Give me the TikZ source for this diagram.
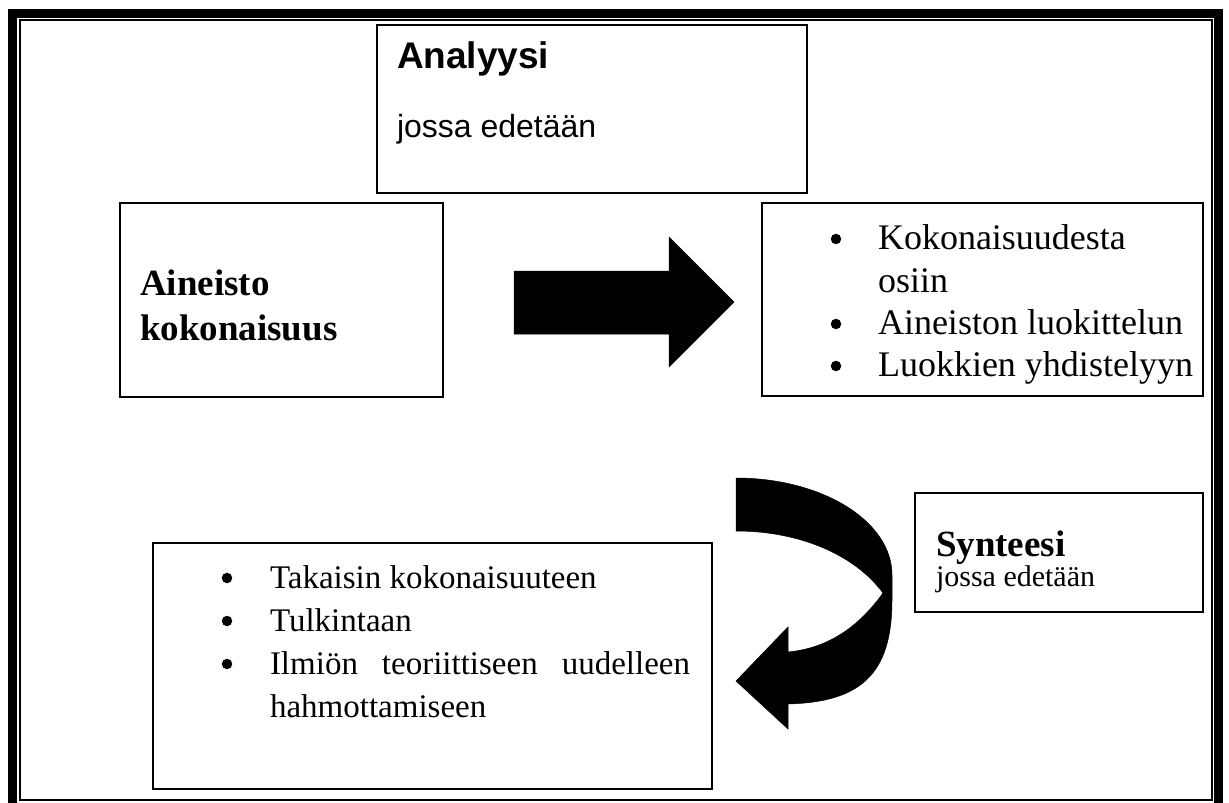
\documentclass[tikz,border=0pt]{standalone}
\usepackage{fontspec}
\setmainfont{Liberation Serif}
\newfontfamily\arialfont{Liberation Sans}
\begin{document}
\begin{tikzpicture}[x=1pt,y=-1pt,
  box/.style={draw=black, line width=1.8pt, rectangle, inner sep=0pt, outer sep=0pt},
  txt/.style={anchor=base west, inner sep=0pt, outer sep=0pt},
  bul/.style={circle, fill=black, inner sep=0pt, minimum size=10.5pt},
  blockarrow/.style={fill=black, draw=black, line width=0.5pt, line join=miter},
  sansbig/.style={font={\arialfont\bfseries\fontsize{37}{40}\selectfont}},
  sanstext/.style={font={\arialfont\fontsize{32}{36}\selectfont}},
  serifbold/.style={font={\bfseries\fontsize{37}{43}\selectfont}},
  seriftext/.style={font={\fontsize{36}{43}\selectfont}},
  seriflow/.style={font={\fontsize{33}{43}\selectfont}},
  serifsmall/.style={font={\fontsize{30}{34}\selectfont}}]
\useasboundingbox (0,0) rectangle (1229,803);
% page border
\begin{scope}
\clip (0,0) rectangle (1229,803);
\draw[line width=9pt] (12.5,13.5) rectangle (1218.5,812);
\draw[line width=1.8pt] (20,20) rectangle (1212,800);
\end{scope}
% boxes
\node[box, minimum width=430pt, minimum height=168pt] (ana) at (592,109) {};
\node[box, minimum width=323pt, minimum height=194pt] (ain) at (281.5,300) {};
\node[box, minimum width=441pt, minimum height=193pt] (rb) at (982.5,299.5) {};
\node[box, minimum width=288pt, minimum height=119pt] (syn) at (1059,552.5) {};
\node[box, minimum width=559pt, minimum height=246pt] (bot) at (432.5,666) {};
% texts
\node[txt, sansbig] (anat) at (397,68) {Analyysi};
\node[txt, sanstext] (anas) at (397,137) {jossa edetään};
\node[txt, serifbold] (ain1) at (140,295) {Aineisto};
\node[txt, serifbold] (ain2) at (140,340) {kokonaisuus};
\node[bul] (rbb1) at (836,239) {};
\node[txt, seriftext] (rb1) at (878,249) {Kokonaisuudesta};
\node[txt, seriftext] (rb2) at (878,292) {osiin};
\node[bul] (rbb3) at (836,324) {};
\node[txt, seriftext] (rb3) at (878,334) {Aineiston luokittelun};
\node[bul] (rbb4) at (836,366) {};
\node[txt, seriftext] (rb4) at (878,376) {Luokkien yhdistelyyn};
\node[txt, serifbold] (synt) at (936,556) {Synteesi};
\node[txt, serifsmall] (syns) at (936,586) {jossa edetään};
\node[bul] (botb1) at (227,578) {};
\node[txt, seriflow] (bot1) at (270,588) {Takaisin kokonaisuuteen};
\node[bul] (botb2) at (227,621) {};
\node[txt, seriflow] (bot2) at (270,631) {Tulkintaan};
\node[bul] (botb3) at (227,664) {};
\node[txt, seriflow] (bot3) at (270,674) {\makebox[420pt][s]{Ilmiön\hfill teoriittiseen\hfill uudelleen}};
\node[txt, seriflow] (bot4) at (270,717) {hahmottamiseen};
% straight block arrow
\path[blockarrow] (514,271) -- (669,271) -- (669,237) -- (734,302) -- (669,367) -- (669,334) -- (514,334) -- cycle;
% curved block arrow
\path[blockarrow] (736,478) .. controls (822,478) and (892,521) .. (892,575)
  -- (892,600) .. controls (892,675) and (860,702) .. (788,704)
  -- (788,729) -- (736,681) -- (788,627) -- (788,652)
  .. controls (830,648) and (860,625) .. (883,593)
  .. controls (855,555) and (800,531) .. (736,531) -- cycle;
\end{tikzpicture}
\end{document}
